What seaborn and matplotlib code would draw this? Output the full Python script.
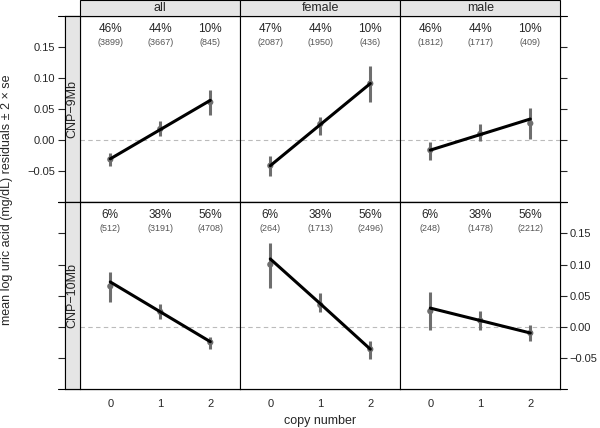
import numpy as np
import pandas as pd
import matplotlib
matplotlib.use("Agg")
import matplotlib.pyplot as plt
import seaborn as sns
from matplotlib.lines import Line2D
from matplotlib.patches import Rectangle

sns.set_style("white")
plt.rcParams['font.family'] = ['Liberation Sans', 'DejaVu Sans']

# DATA
copies = [0, 1, 2]
groups = ["all", "female", "male"]
regions = ["CNP\u22129Mb", "CNP\u221210Mb"]

# mean residuals, lower / upper (±2 se) and fitted line, per region and group
mean_9 = {"all": [-0.031, 0.018, 0.061], "female": [-0.041, 0.026, 0.091], "male": [-0.016, 0.010, 0.027]}
low_9 = {"all": [-0.041, 0.007, 0.040], "female": [-0.057, 0.009, 0.062], "male": [-0.032, -0.002, 0.002]}
high_9 = {"all": [-0.020, 0.030, 0.080], "female": [-0.026, 0.038, 0.119], "male": [-0.003, 0.026, 0.052]}
fit_9 = {"all": [-0.030, 0.017, 0.064], "female": [-0.041, 0.025, 0.091], "male": [-0.016, 0.009, 0.034]}

mean_10 = {"all": [0.065, 0.024, -0.025], "female": [0.100, 0.035, -0.036], "male": [0.025, 0.010, -0.010]}
low_10 = {"all": [0.039, 0.013, -0.036], "female": [0.063, 0.023, -0.052], "male": [-0.005, -0.005, -0.023]}
high_10 = {"all": [0.088, 0.037, -0.016], "female": [0.134, 0.054, -0.023], "male": [0.056, 0.026, 0.003]}
fit_10 = {"all": [0.072, 0.024, -0.024], "female": [0.109, 0.037, -0.036], "male": [0.030, 0.010, -0.010]}

pct_9 = {"all": ["46%", "44%", "10%"], "female": ["47%", "44%", "10%"], "male": ["46%", "44%", "10%"]}
n_9 = {"all": [3899, 3667, 845], "female": [2087, 1950, 436], "male": [1812, 1717, 409]}
pct_10 = {"all": ["6%", "38%", "56%"], "female": ["6%", "38%", "56%"], "male": ["6%", "38%", "56%"]}
n_10 = {"all": [512, 3191, 4708], "female": [264, 1713, 2496], "male": [248, 1478, 2212]}

ytick_vals = [-0.05, 0.00, 0.05, 0.10, 0.15]
ytick_labels = ["\u22120.05", "0.00", "0.05", "0.10", "0.15"]

rows = [
    (regions[0], mean_9, low_9, high_9, fit_9, pct_9, n_9),
    (regions[1], mean_10, low_10, high_10, fit_10, pct_10, n_10),
]

# LAYOUT (pixels)
W, H = 600, 428
fig = plt.figure(figsize=(W / 100, H / 100), dpi=100)
col_x = [80.3, 240.3, 400.3]
col_w = 160
row_top = [15.7, 202.3]
row_h = 186.7
strip_x0 = 65
ylim = (-0.1, 0.2)
xlim = (-0.6, 2.6)


def fx(px):
    return px / W


def fy(py):
    return 1 - py / H


for r, (region, mean, low, high, fit, pct, ns) in enumerate(rows):
    top = row_top[r]
    bot = top + row_h

    # frame axes carrying the y ticks (left and right)
    frame = fig.add_axes([fx(strip_x0), fy(bot), fx(560 - strip_x0), row_h / H])
    frame.set_ylim(*ylim)
    frame.set_xlim(0, 1)
    frame.set_xticks([])
    frame.set_yticks(ytick_vals)
    frame.set_yticklabels(ytick_labels)
    frame.tick_params(axis='y', direction='out', length=5, width=0.8, labelsize=8,
                      left=True, right=True, labelleft=(r == 0), labelright=(r == 1), pad=2)
    for s in frame.spines.values():
        s.set_color('black')
        s.set_linewidth(0.8)
    frame.patch.set_alpha(0)

    # left strip
    fig.add_artist(Rectangle((fx(strip_x0), fy(bot)), fx(col_x[0] - strip_x0), row_h / H,
                             transform=fig.transFigure, facecolor='#e5e5e5',
                             edgecolor='black', lw=0.8, zorder=2))
    fig.text(fx((strip_x0 + col_x[0]) / 2), fy((top + bot) / 2), region, rotation=90,
             ha='center', va='center', fontsize=9, zorder=3)

    # little extensions of the horizontal frame lines
    for yy in (top, bot):
        fig.add_artist(Line2D([fx(58), fx(567)], [fy(yy), fy(yy)],
                              transform=fig.transFigure, color='black', lw=0.8))

    for c, g in enumerate(groups):
        ax = fig.add_axes([fx(col_x[c]), fy(bot), col_w / W, row_h / H])
        ax.set_xlim(*xlim)
        ax.set_ylim(*ylim)
        ax.axhline(0, color='#bbbbbb', lw=0.8, ls=(0, (4, 3)), zorder=1)

        df = pd.DataFrame({"copy": copies, "mean": mean[g], "low": low[g],
                           "high": high[g], "fit": fit[g]})
        ax.vlines(df["copy"], df["low"], df["high"], color='#6e6e6e', lw=2.2, zorder=2)
        sns.scatterplot(data=df, x="copy", y="mean", ax=ax, color='#6e6e6e', s=20,
                        edgecolor='none', zorder=3)
        sns.lineplot(data=df, x="copy", y="fit", ax=ax, color='black', lw=2.2, zorder=4)

        for i, xv in enumerate(copies):
            ax.text(xv, 0.2 - 0.3 * 0.07, pct[g][i], ha='center', va='center', fontsize=8.5)
            ax.text(xv, 0.2 - 0.3 * 0.143, "(%d)" % ns[g][i], ha='center', va='center',
                    fontsize=6.5, color='#555555')

        ax.set_xlabel("")
        ax.set_ylabel("")
        ax.set_yticks([])
        if r == 1:
            ax.set_xticks(copies)
            ax.set_xticklabels([str(v) for v in copies])
            ax.tick_params(axis='x', length=0, labelsize=8, pad=7)
        else:
            ax.set_xticks([])
        for s in ax.spines.values():
            s.set_color('black')
            s.set_linewidth(0.8)

        if r == 0:
            # top strip
            fig.add_artist(Rectangle((fx(col_x[c]), fy(top)), col_w / W, top / H,
                                     transform=fig.transFigure, facecolor='#e5e5e5',
                                     edgecolor='black', lw=0.8, zorder=2))
            fig.text(fx(col_x[c] + col_w / 2), fy(top / 2), g, ha='center', va='center',
                     fontsize=9, zorder=3)

fig.text(fx(320), fy(421), "copy number", ha='center', va='center', fontsize=9)
fig.text(fx(7.5), fy(200), "mean log uric acid (mg/dL) residuals \u00b1 2 \u00d7 se", rotation=90,
         ha='center', va='center', fontsize=9)

fig.savefig("out.png", dpi=100)
